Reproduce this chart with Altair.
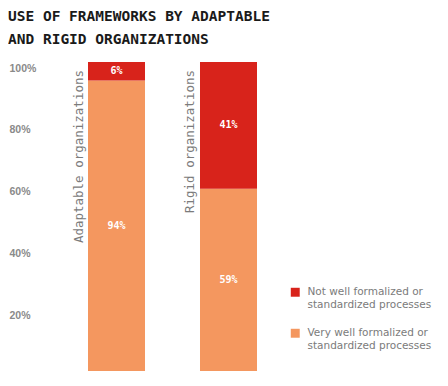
import altair as alt
import pandas as pd

orgs = ["Adaptable organizations", "Rigid organizations"]
not_well = [6, 41]
very_well = [94, 59]
cat_not = "Not well formalized or standardized processes"
cat_very = "Very well formalized or standardized processes"
y_ticks = [20, 40, 60, 80, 100]

rows = []
for o, nw, vw in zip(orgs, not_well, very_well):
    rows.append({"org": o, "category": cat_very, "value": vw, "order": 0})
    rows.append({"org": o, "category": cat_not, "value": nw, "order": 1})
df = pd.DataFrame(rows)

RED = "#d8231b"
ORANGE = "#f4975f"
GRAY = "#7b7b7b"

x_enc = alt.X("org:N", sort=orgs, axis=None,
              scale=alt.Scale(domain=orgs, range=[48, 217], paddingInner=0.491, paddingOuter=0))

base = alt.Chart(df)

bars = base.mark_bar(size=57).encode(
    x=x_enc,
    y=alt.Y("value:Q", stack="zero",
            scale=alt.Scale(domain=[0, 100], nice=False),
            axis=alt.Axis(values=y_ticks, title=None, grid=False, domain=False, ticks=False,
                          labelExpr="datum.value + '%'", labelAlign="left", labelPadding=31,
                          labelBaseline="middle", labelOffset=6, labelColor="#8a8a8a",
                          labelFont="Liberation Sans", labelFontWeight="bold", labelFontSize=10.5)),
    color=alt.Color("category:N",
                    scale=alt.Scale(domain=[cat_not, cat_very], range=[RED, ORANGE]),
                    legend=alt.Legend(title=None, orient="none", legendX=250, legendY=225,
                                      symbolType="square", symbolSize=80, symbolStrokeWidth=0,
                                      padding=0, rowPadding=17, labelFontSize=10.5,
                                      labelFont="DejaVu Sans", labelColor=GRAY,
                                      labelLimit=300, labelOffset=7,
                                      labelExpr="split(replace(datum.label, ' or ', ' or|'), '|')")),
    order=alt.Order("order:Q"),
)

vals = base.transform_stack(
    stack="value", groupby=["org"], sort=[alt.SortField("order")], as_=["v0", "v1"]
).transform_calculate(
    mid="(datum.v0 + datum.v1) / 2", lab="datum.value + '%'"
).mark_text(color="white", font="DejaVu Sans Mono", fontSize=10, fontWeight="bold").encode(
    x=x_enc,
    y=alt.Y("mid:Q"),
    text="lab:N",
)

lab_df = pd.DataFrame({"org": orgs})
names = alt.Chart(lab_df).mark_text(
    angle=270, align="right", baseline="middle", font="DejaVu Sans Mono",
    fontSize=12.5, color=GRAY, xOffset=-38,
).encode(
    x=x_enc,
    y=alt.value(8),
    text="org:N",
)

chart = alt.layer(bars, vals, names).properties(
    width=240, height=309,
    padding={"left": 32, "top": 54, "right": 160, "bottom": 7},
    autosize=alt.AutoSizeParams(type="none"),
    title=alt.TitleParams(
        text=["USE OF FRAMEWORKS BY ADAPTABLE", "AND RIGID ORGANIZATIONS"],
        anchor="start", frame="group", dx=-32, offset=15,
        font="DejaVu Sans Mono", fontSize=14.5, fontWeight="bold", color="#1a1a1a",
        lineHeight=23,
    ),
).configure_view(stroke=None)

chart.save("out.html", embed_options={"renderer": "svg", "actions": False})
